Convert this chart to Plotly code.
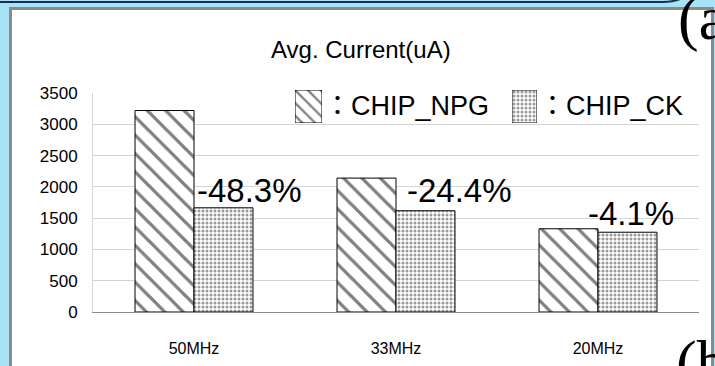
import plotly.graph_objects as go

# Average current per clock frequency
freqs = ["50MHz", "33MHz", "20MHz"]
chip_npg = [3220, 2140, 1330]
chip_ck = [1665, 1618, 1275]
y_ticks = [0, 500, 1000, 1500, 2000, 2500, 3000, 3500]

W, H = 715, 366
ML, MR, MT, MB = 93, 16, 60, 54
PW, PH = W - ML - MR, H - MT - MB


def px(x):
    return (x - ML) / PW


def py(y):
    return (H - MB - y) / PH


SANS = "Liberation Sans, Arial, Noto Sans CJK JP"
SERIF = "Liberation Serif, DejaVu Serif, serif"

npg_pattern = dict(shape="\\", fgcolor="black", bgcolor="white", size=13, solidity=0.25)
ck_pattern = dict(shape=".", fgcolor="#333333", bgcolor="white", size=4, solidity=0.45)

fig = go.Figure()
fig.add_trace(go.Bar(
    x=freqs, y=chip_npg, name="CHIP_NPG",
    marker=dict(color="white", pattern=npg_pattern, line=dict(color="black", width=1)),
))
fig.add_trace(go.Bar(
    x=freqs, y=chip_ck, name="CHIP_CK",
    marker=dict(color="white", pattern=ck_pattern, line=dict(color="black", width=1)),
))

# legend swatches, each drawn on its own small axis pair
for pat, xa, ya in [
    (dict(npg_pattern, size=9), "x2", "y2"),
    (ck_pattern, "x3", "y3"),
]:
    fig.add_trace(go.Bar(
        x=[0], y=[1], width=[1], offset=[-0.5], xaxis=xa, yaxis=ya, showlegend=False,
        marker=dict(color="white", pattern=pat, line=dict(color="black", width=1)),
        hoverinfo="skip",
    ))

swatch_y = [py(123), py(90)]
hidden = dict(visible=False, fixedrange=True)
fig.update_layout(
    xaxis2=dict(domain=[px(295), px(322)], range=[-0.5, 0.5], anchor="y2", **hidden),
    yaxis2=dict(domain=swatch_y, range=[0, 1], anchor="x2", **hidden),
    xaxis3=dict(domain=[px(512), px(537)], range=[-0.5, 0.5], anchor="y3", **hidden),
    yaxis3=dict(domain=swatch_y, range=[0, 1], anchor="x3", **hidden),
)

shapes = [
    # white panel with grey frame
    dict(type="rect", xref="paper", yref="paper", x0=px(10.5), x1=px(712.5), y0=py(380), y1=py(8.5),
         fillcolor="white", line=dict(color="#8a8a8a", width=3), layer="below"),
    # edge of the panel above
    dict(type="path", xref="paper", yref="paper",
         path=f"M {px(-2)},{py(2)} L {px(662)},{py(2)} Q {px(680)},{py(2)} {px(688)},{py(-6)}",
         line=dict(color="#1c2c4c", width=2)),
]

annotations = [
    dict(text="Avg. Current(uA)", x=px(361), y=py(50), xref="paper", yref="paper",
         showarrow=False, font=dict(family=SANS, size=24, color="black"),
         xanchor="center", yanchor="middle"),
    dict(text="：CHIP_NPG", x=px(322), y=py(106), xref="paper", yref="paper",
         showarrow=False, font=dict(family=SANS, size=27, color="black"),
         xanchor="left", yanchor="middle"),
    dict(text="：CHIP_CK", x=px(537), y=py(106), xref="paper", yref="paper",
         showarrow=False, font=dict(family=SANS, size=27, color="black"),
         xanchor="left", yanchor="middle"),
    dict(text="(a", x=px(676), y=py(19), xref="paper", yref="paper",
         showarrow=False, font=dict(family=SERIF, size=62, color="black"),
         xanchor="left", yanchor="middle"),
    dict(text="(b", x=px(674), y=py(362), xref="paper", yref="paper",
         showarrow=False, font=dict(family=SERIF, size=62, color="black"),
         xanchor="left", yanchor="middle"),
]

# reduction labels computed from the two series
label_pos = [(249, 190), (459, 190), (631, 213)]
for (n, c), (lx, ly) in zip(zip(chip_npg, chip_ck), label_pos):
    annotations.append(dict(
        text=f"{(c / n - 1) * 100:.1f}%", x=px(lx), y=py(ly), xref="paper", yref="paper",
        showarrow=False, font=dict(family=SANS, size=33, color="black"),
        xanchor="center", yanchor="middle"))

fig.update_layout(
    width=W, height=H,
    margin=dict(l=ML, r=MR, t=MT, b=MB),
    paper_bgcolor="#a6e3f7",
    plot_bgcolor="white",
    barmode="group",
    bargap=0.416,
    bargroupgap=0,
    showlegend=False,
    shapes=shapes,
    annotations=annotations,
    xaxis=dict(
        domain=[0, 1], showgrid=False, showline=True, linecolor="#8c8c8c", linewidth=1,
        ticks="", tickfont=dict(family=SANS, size=16, color="black"),
        ticklabelstandoff=22, fixedrange=True, automargin=False,
    ),
    yaxis=dict(
        domain=[0, py(93)], range=[0, 3500], tickvals=y_ticks,
        showgrid=True, gridcolor="#d4d4d4", gridwidth=1,
        showline=True, linecolor="#d4d4d4", linewidth=1, zeroline=False,
        ticks="", tickfont=dict(family=SANS, size=17, color="black"),
        ticklabelstandoff=11, fixedrange=True, automargin=False,
    ),
)

fig.write_html("out.html")
